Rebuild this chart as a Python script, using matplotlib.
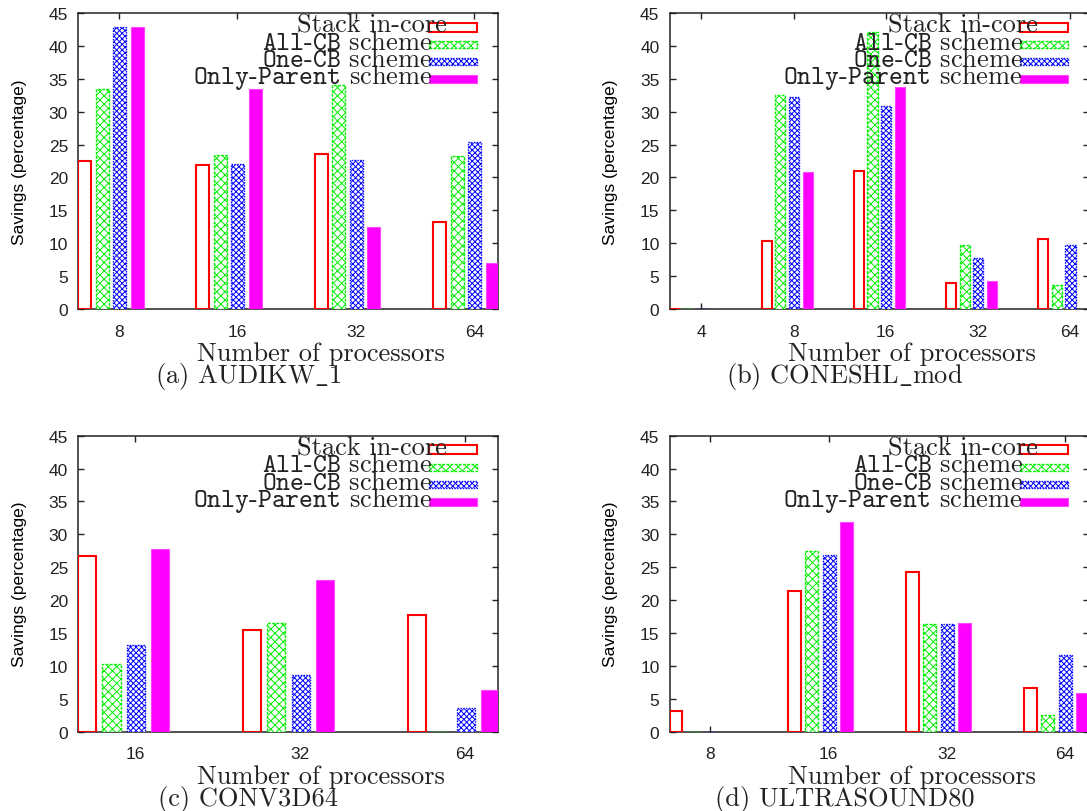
"""Memory savings per scheme, four matrices, gnuplot-like clustered bars."""

import matplotlib
matplotlib.use("Agg")
import matplotlib.pyplot as plt
from matplotlib.patches import Rectangle
import numpy as np

plt.rcParams["font.family"] = ["Liberation Sans", "DejaVu Sans"]
plt.rcParams["mathtext.fontset"] = "cm"
plt.rcParams["hatch.linewidth"] = 0.7
plt.rcParams["axes.unicode_minus"] = False

SERIF = ["cmr10", "DejaVu Serif"]

# ---------------------------------------------------------------------------
# Data (savings in percent)
# ---------------------------------------------------------------------------

series_labels = [
    "Stack in-core",
    r"$\mathtt{All}$-$\mathtt{CB}$ scheme",
    r"$\mathtt{One}$-$\mathtt{CB}$ scheme",
    r"$\mathtt{Only}$-$\mathtt{Parent}$ scheme",
]

# (a) AUDIKW_1
procs_a = ["8", "16", "32", "64"]
stack_a = [22.5, 21.9, 23.6, 13.2]
allcb_a = [33.4, 23.4, 34.0, 23.3]
onecb_a = [42.8, 22.0, 22.7, 25.4]
parent_a = [42.8, 33.5, 12.5, 7.05]

# (b) CONESHL_mod
procs_b = ["4", "8", "16", "32", "64"]
stack_b = [0.0, 10.4, 21.0, 4.0, 10.6]
allcb_b = [0.0, 32.5, 42.1, 9.7, 3.6]
onecb_b = [0.0, 32.2, 30.8, 7.8, 9.7]
parent_b = [0.0, 20.9, 33.8, 4.3, 0.0]

# (c) CONV3D64
procs_c = ["16", "32", "64"]
stack_c = [26.7, 15.5, 17.8]
allcb_c = [10.3, 16.6, 0.0]
onecb_c = [13.2, 8.6, 3.55]
parent_c = [27.8, 23.1, 6.4]

# (d) ULTRASOUND80
procs_d = ["8", "16", "32", "64"]
stack_d = [3.15, 21.4, 24.3, 6.7]
allcb_d = [0.0, 27.4, 16.3, 2.6]
onecb_d = [0.0, 26.9, 16.3, 11.6]
parent_d = [0.0, 31.9, 16.6, 5.9]

# underscore drawn through mathtext, cmr10 has a dot accent in that slot
captions = [r"(a) AUDIKW$\_$1", r"(b) CONESHL$\_$mod", "(c) CONV3D64",
            "(d) ULTRASOUND80"]

# ---------------------------------------------------------------------------
# Styles
# ---------------------------------------------------------------------------

STYLES = [
    dict(facecolor="white", edgecolor="#ff0000", linewidth=1.5),
    dict(facecolor="white", edgecolor="#00ee00", linewidth=1.0, hatch="xxxx",
         linestyle=(0, (2, 1))),
    dict(facecolor="white", edgecolor="#0000ff", linewidth=1.0, hatch="xxxxxx",
         linestyle=(0, (1, 1))),
    dict(facecolor="#ff00ff", edgecolor="#ff44ff", linewidth=0.8),
]
OFFSETS = [-0.292, -0.144, 0.004, 0.152]
BAR_W = 0.11

W, H = 1087, 812
fig = plt.figure(figsize=(W / 100, H / 100), dpi=100)

# axes boxes in pixels: left, top, right, bottom
boxes = [
    (78, 14, 498, 310),
    (669.5, 14, 1088.5, 310),
    (78, 436.7, 498, 732.7),
    (669.5, 436.7, 1088.5, 732.7),
]
panels = [
    (procs_a, [stack_a, allcb_a, onecb_a, parent_a]),
    (procs_b, [stack_b, allcb_b, onecb_b, parent_b]),
    (procs_c, [stack_c, allcb_c, onecb_c, parent_c]),
    (procs_d, [stack_d, allcb_d, onecb_d, parent_d]),
]


def draw_key(ax, wpx, hpx):
    # gnuplot style key: text right aligned, sample box to its right
    row_y = [14, 31.3, 48.6, 66]
    text_right = [51, 65.5, 65.5, 65.5]
    box_h = [9, 7, 7, 8]
    for i, lab in enumerate(series_labels):
        y0 = 1 - (row_y[i] + box_h[i] / 2) / hpx
        ax.add_patch(Rectangle((1 - 69 / wpx, y0), 48 / wpx, box_h[i] / hpx,
                               transform=ax.transAxes, clip_on=False,
                               zorder=4, **STYLES[i]))
        ax.text(1 - text_right[i] / wpx, 1 - (row_y[i] + 4.3) / hpx, lab,
                transform=ax.transAxes, ha="right", va="baseline",
                family=SERIF, fontsize=19, color="#222222", zorder=5)


for k, ((procs, vals), (l, t, r, b)) in enumerate(zip(panels, boxes)):
    wpx, hpx = r - l, b - t
    ax = fig.add_axes([l / W, 1 - b / H, wpx / W, hpx / H])
    x = np.arange(len(procs))
    for s in range(4):
        ax.bar(x + OFFSETS[s], vals[s], BAR_W, zorder=3, **STYLES[s])
    ax.set_xlim(-0.347, len(procs) - 1 + 0.2)
    ax.set_ylim(0, 45)
    ax.set_yticks(range(0, 46, 5))
    ax.set_xticks(x)
    ax.set_xticklabels(procs)
    ax.tick_params(direction="in", length=4, width=1, top=True, right=True,
                   labelsize=12.5, colors="#222222")
    ax.tick_params(axis="x", pad=10.5)
    ax.tick_params(axis="y", pad=7.2)
    for sp in ax.spines.values():
        sp.set_linewidth(1.1)
        sp.set_color("#222222")

    ax.set_ylabel("Savings (percentage)", fontsize=12.5)
    ax.yaxis.set_label_coords(-51 / wpx, 0.5)
    ax.set_xlabel("Number of processors", family=SERIF, fontsize=19,
                  va="baseline", color="#222222")
    ax.xaxis.set_label_coords(0.579, -51 / hpx)
    cx = 248 if k % 2 == 0 else 845
    ax.text((cx - l) / wpx, -73 / hpx, captions[k], transform=ax.transAxes,
            ha="center", va="baseline", family=SERIF, fontsize=19,
            color="#222222")

    draw_key(ax, wpx, hpx)

fig.savefig("out.png", dpi=100)
